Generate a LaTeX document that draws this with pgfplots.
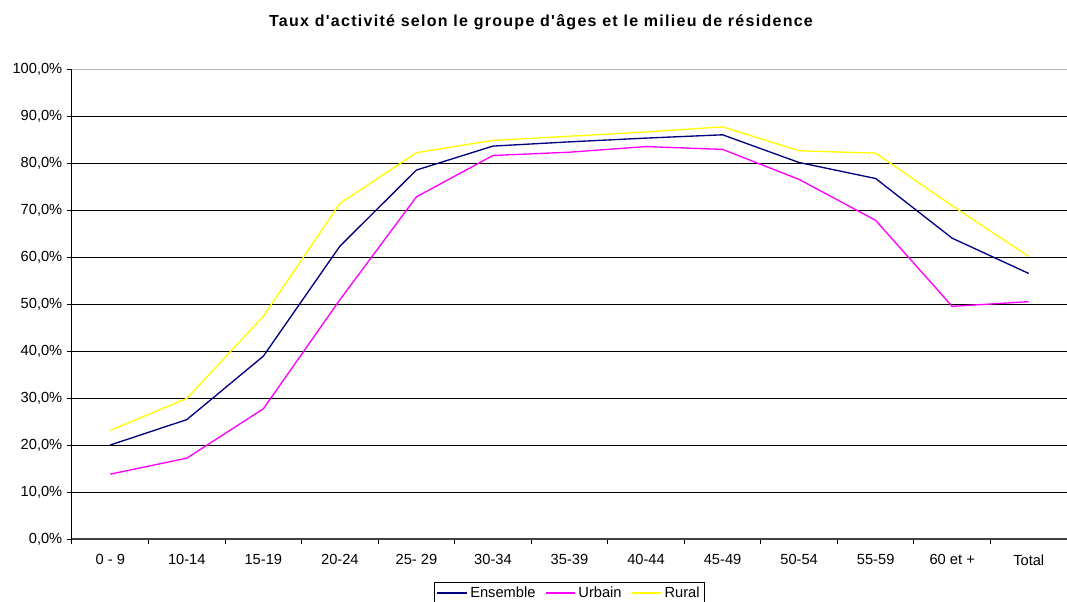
\documentclass[border=0pt]{standalone}
\usepackage{fontspec}
\setmainfont{Liberation Sans}
\newfontfamily\titlefont[LetterSpace=8]{Liberation Sans}
\usepackage{pgfplots}
\usepackage{pgfplotstable}
\pgfplotsset{compat=1.18}
\definecolor{ens}{RGB}{0,0,128}
\definecolor{urb}{RGB}{255,0,255}
\definecolor{rur}{RGB}{255,255,0}
\pgfplotstableread{
x ens urb rur
0 20.0 13.8 23.1
1 25.4 17.2 29.9
2 38.9 27.7 47.4
3 62.3 50.9 71.4
4 78.5 72.8 82.2
5 83.6 81.6 84.8
6 84.5 82.3 85.7
7 85.3 83.5 86.6
8 86.0 82.9 87.7
9 80.1 76.5 82.6
10 76.7 67.8 82.1
11 64.0 49.5 70.9
12 56.5 50.5 60.1
}\data
\begin{document}
\begin{tikzpicture}
\useasboundingbox (-54pt,-46.5pt) rectangle (746.25pt,404.25pt);
\begin{axis}[
  scale only axis, width=746.25pt, height=352.5pt,
  at={(0,0)}, anchor=south west,
  xmin=-0.5, xmax=12.5, ymin=0, ymax=100,
  axis x line*=bottom, axis y line*=left, axis line style={-},
  x axis line style={line width=1.2pt, black!75},
  y axis line style={line width=0.75pt, black},
  xtick={0,...,12},
  xticklabels={0 - 9,10-14,15-19,20-24,25- 29,30-34,35-39,40-44,45-49,50-54,55-59,60 et +,Total},
  xticklabel style={yshift=-4.5pt},
  major x tick style={draw=none},
  minor xtick={-0.5,0.5,...,12.5},
  minor x tick style={black, line width=0.75pt},
  tick align=outside, major tick length=3.75pt, minor tick length=3.75pt,
  ytick={0,10,...,100},
  y tick style={black, line width=0.75pt},
  yticklabel={\pgfmathprintnumber[fixed,fixed zerofill,precision=1,use comma]{\tick}\%},
  ymajorgrids, major grid style={black, line width=0.75pt},
  tick label style={font=\fontsize{11}{13}\selectfont},
  /pgf/number format/assume math mode=true,
  legend columns=3,
  legend style={at={(0.5,0)}, anchor=north, yshift=-32.25pt,
    font=\fontsize{11}{13}\selectfont, inner sep=1.5pt,
    /tikz/every even column/.append style={column sep=5pt}},
  legend image code/.code={\draw[#1] (0pt,0pt) -- (22pt,0pt);},
]
\addlegendimage{draw=ens, line width=1.2pt}
\addlegendentry{Ensemble}
\addlegendimage{draw=urb, line width=1.2pt}
\addlegendentry{Urbain}
\addlegendimage{draw=rur, line width=1.2pt}
\addlegendentry{Rural}
\addplot[color=ens, line width=1pt, forget plot] table[x=x,y=ens]{\data};
\addplot[color=urb, line width=1pt, forget plot] table[x=x,y=urb]{\data};
\addplot[color=rur, line width=1pt, forget plot] table[x=x,y=rur]{\data};
\draw[gray!60, line width=0.75pt] (axis cs:-0.5,100) -- (axis cs:12.5,100);
\end{axis}
\node[font=\titlefont\bfseries\fontsize{12}{14}\selectfont] at (351.75pt,387.75pt) {Taux d'activité selon le groupe d'âges et le milieu de résidence};
\end{tikzpicture}
\end{document}
